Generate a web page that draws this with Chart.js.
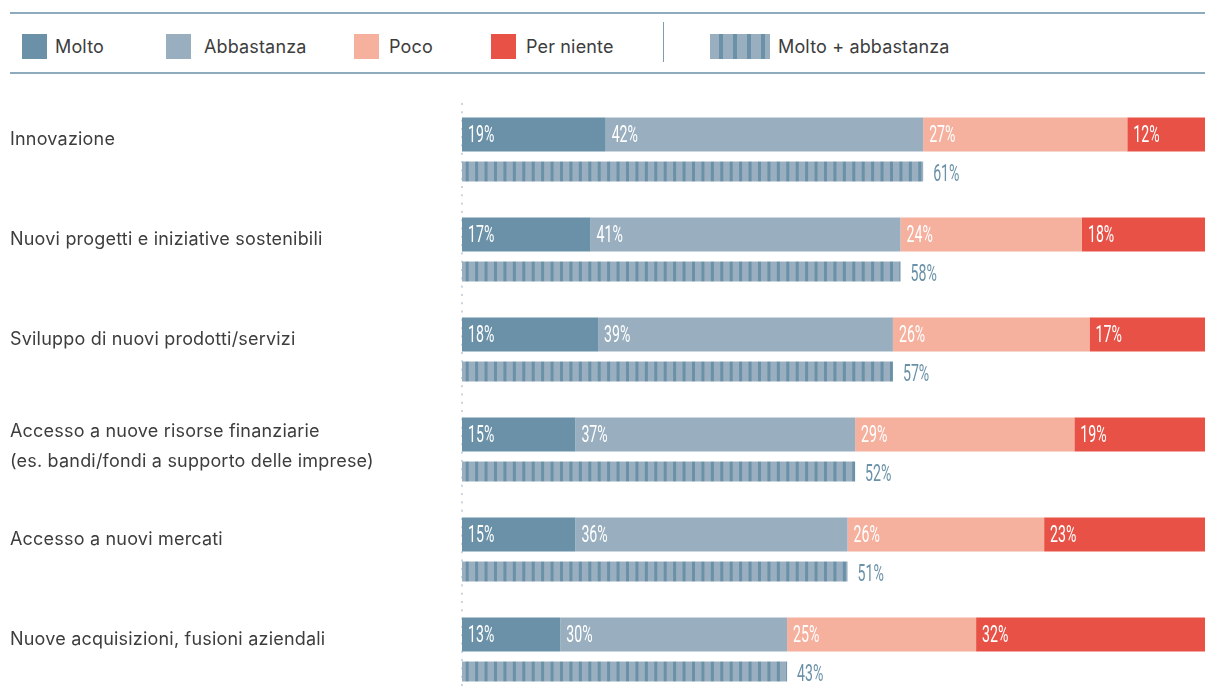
<!DOCTYPE html>
<html lang="it">
<head>
<meta charset="utf-8">
<title>Impatto per ambito</title>
<script src="https://cdn.jsdelivr.net/npm/chart.js@4/dist/chart.umd.min.js"></script>
<style>
  html, body { margin: 0; padding: 0; background: #fff; overflow: hidden; }
  body { width: 1205px; height: 686px; position: relative; font-family: "Inter", "Noto Sans", sans-serif; color: #3d3d3d; }
  .rule { position: absolute; left: 10px; right: 0; height: 0; border-top: 2px solid #8eaabd; }
  .legend { position: absolute; top: 22px; left: 0; height: 40px; width: 1205px; }
  .legend .item { position: absolute; top: 11px; display: flex; align-items: center; font-size: 18px; letter-spacing: 0.15px; line-height: 27px; }
  .legend .sw { width: 25px; height: 25px; margin-right: 8px; }
  .legend .sep { position: absolute; left: 663px; top: 0; width: 1px; height: 40px; background: #7b9db2; }
  .legend .striped {
    width: 60px;
    background: repeating-linear-gradient(90deg, #99afbf 0 9px, #6a91a7 9px 13px, #99afbf 13px 14px);
  }
  #wrap { position: absolute; left: 0; top: 103px; width: 1205px; height: 600px; }
</style>
</head>
<body>
<div class="rule" style="top:12px"></div>
<div class="legend">
  <div class="item" style="left:22px"><span class="sw" style="background:#6a91a7"></span>Molto</div>
  <div class="item" style="left:166px"><span class="sw" style="background:#99afbf;margin-right:13px"></span>Abbastanza</div>
  <div class="item" style="left:354px"><span class="sw" style="background:#f5b09e;margin-right:10px"></span>Poco</div>
  <div class="item" style="left:491px"><span class="sw" style="background:#e85246;margin-right:10px"></span>Per niente</div>
  <div class="sep"></div>
  <div class="item" style="left:710px"><span class="sw striped"></span>Molto + abbastanza</div>
</div>
<div class="rule" style="top:72px"></div>
<div id="wrap"><canvas id="chart"></canvas></div>
<script>
const categories = [
  'Innovazione',
  'Nuovi progetti e iniziative sostenibili',
  'Sviluppo di nuovi prodotti/servizi',
  ['Accesso a nuove risorse finanziarie', '(es. bandi/fondi a supporto delle imprese)'],
  'Accesso a nuovi mercati',
  'Nuove acquisizioni, fusioni aziendali'
];
const molto = [19, 17, 18, 15, 15, 13];
const abbastanza = [42, 41, 39, 37, 36, 30];
const poco = [27, 24, 26, 29, 26, 25];
const perNiente = [12, 18, 17, 19, 23, 32];
const moltoAbbastanza = [61, 58, 57, 52, 51, 43];

const COLORS = { molto: '#6a91a7', abbastanza: '#99afbf', poco: '#f5b09e', perNiente: '#e85246' };
const VALUE_FONT = '24px "Roboto", "Noto Sans", sans-serif';
const VALUE_SQUEEZE = 0.59; // percentages are set in a tall, narrow face
const LABEL_FONT = '18px "Inter", "Noto Sans", sans-serif';

// vertical stripes for the "molto + abbastanza" bar: 7 periods in 66px
function stripePattern() {
  const c = document.createElement('canvas');
  c.width = 66;
  c.height = 10;
  const g = c.getContext('2d');
  g.fillStyle = COLORS.abbastanza;
  g.fillRect(0, 0, 66, 10);
  g.fillStyle = COLORS.molto;
  for (let i = 0; i < 7; i++) {
    g.fillRect(3.7 + i * 66 / 7, 0, 3, 10);
  }
  return g.createPattern(c, 'repeat');
}

const stackedBar = { stack: 'split', categoryPercentage: 0.74, barPercentage: 0.92, borderWidth: 0 };

const zeroLine = {
  id: 'zeroLine',
  beforeDatasetsDraw(chart) {
    const ctx = chart.ctx;
    const x = chart.scales.x.getPixelForValue(0);
    ctx.save();
    ctx.fillStyle = '#c9d6e0';
    for (let y = 0; y < chart.height; y += 8.3) {
      ctx.fillRect(x - 1, y, 2, 2);
    }
    ctx.restore();
  }
};

function narrowText(ctx, text, x, y) {
  ctx.save();
  ctx.translate(x, y);
  ctx.scale(VALUE_SQUEEZE, 1);
  ctx.fillText(text, 0, 0);
  ctx.restore();
}

const barLabels = {
  id: 'barLabels',
  afterDatasetsDraw(chart) {
    const ctx = chart.ctx;
    ctx.save();
    ctx.textBaseline = 'middle';
    ctx.textAlign = 'left';
    ctx.font = VALUE_FONT;
    chart.data.datasets.forEach((ds, di) => {
      const meta = chart.getDatasetMeta(di);
      meta.data.forEach((bar, i) => {
        const p = bar.getProps(['x', 'y', 'base'], true);
        const start = Math.min(p.x, p.base);
        const end = Math.max(p.x, p.base);
        if (ds.stack === 'total') {
          ctx.fillStyle = '#6a91a7';
          narrowText(ctx, ds.data[i] + '%', end + 10, p.y + 3);
        } else {
          ctx.fillStyle = '#ffffff';
          narrowText(ctx, ds.data[i] + '%', start + 6, p.y + 1);
        }
      });
    });

    // category names on the left, aligned to the stacked bar
    const first = chart.getDatasetMeta(0);
    ctx.font = LABEL_FONT;
    ctx.letterSpacing = '0.2px';
    ctx.fillStyle = '#3d3d3d';
    categories.forEach((cat, i) => {
      const lines = Array.isArray(cat) ? cat : [cat];
      const y0 = first.data[i].y + 5 - (lines.length - 1) * 8;
      lines.forEach((line, k) => ctx.fillText(line, 10, y0 + k * 30));
    });
    ctx.restore();
  }
};

new Chart(document.getElementById('chart'), {
  type: 'bar',
  data: {
    labels: categories,
    datasets: [
      Object.assign({ label: 'Molto', data: molto, backgroundColor: COLORS.molto }, stackedBar),
      Object.assign({ label: 'Abbastanza', data: abbastanza, backgroundColor: COLORS.abbastanza }, stackedBar),
      Object.assign({ label: 'Poco', data: poco, backgroundColor: COLORS.poco }, stackedBar),
      Object.assign({ label: 'Per niente', data: perNiente, backgroundColor: COLORS.perNiente }, stackedBar),
      {
        label: 'Molto + abbastanza',
        data: moltoAbbastanza,
        stack: 'total',
        backgroundColor: stripePattern(),
        categoryPercentage: 0.74,
        barPercentage: 0.54,
        borderWidth: 0
      }
    ]
  },
  options: {
    indexAxis: 'y',
    responsive: true,
    maintainAspectRatio: false,
    animation: false,
    layout: { padding: { left: 462, right: 0, top: 0, bottom: 0 } },
    scales: {
      x: { display: false, stacked: true, min: 0, max: 98.28 },
      y: { display: false, stacked: true }
    },
    plugins: {
      legend: { display: false },
      tooltip: { enabled: false }
    }
  },
  plugins: [zeroLine, barLabels]
});
</script>
</body>
</html>
